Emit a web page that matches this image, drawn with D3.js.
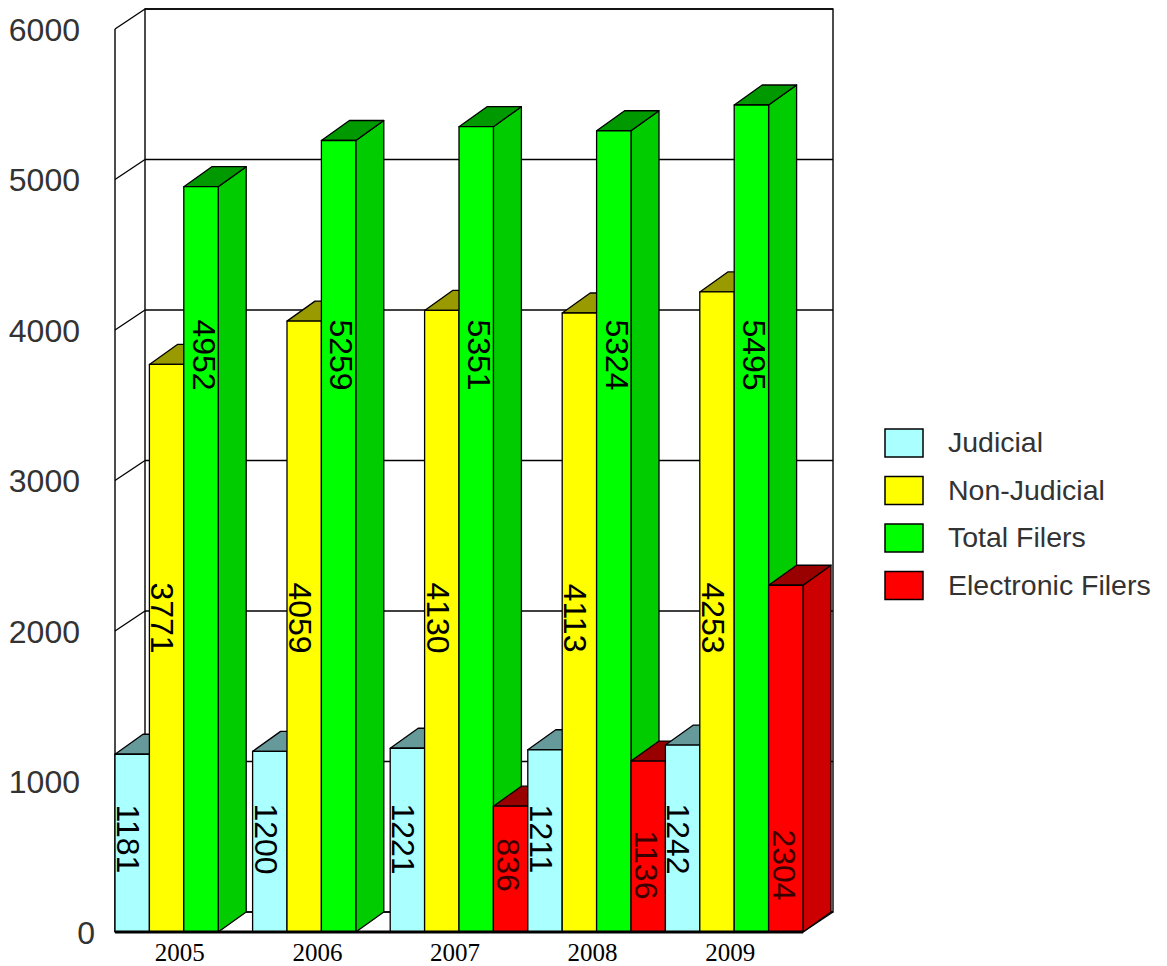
<!DOCTYPE html>
<html>
<head>
<meta charset="utf-8">
<script src="https://cdn.jsdelivr.net/npm/d3@7"></script>
<style>
  body { margin: 0; background: #fff; }
  svg { display: block; }
</style>
</head>
<body>
<svg id="chart" width="1167" height="966"></svg>
<script>
// ---- data ----
const years = ["2005", "2006", "2007", "2008", "2009"];
const seriesNames = ["Judicial", "Non-Judicial", "Total Filers", "Electronic Filers"];
const judicial = [1181, 1200, 1221, 1211, 1242];
const nonJudicial = [3771, 4059, 4130, 4113, 4253];
const totalFilers = [4952, 5259, 5351, 5324, 5495];
const electronicFilers = [0, 0, 836, 1136, 2304];
const yTicks = [0, 1000, 2000, 3000, 4000, 5000, 6000];

const seriesValues = [judicial, nonJudicial, totalFilers, electronicFilers];

// ---- styling ----
const palette = {
  "Judicial":          { front: "#aaffff", side: "#88cccc", top: "#669999", label: "#000" },
  "Non-Judicial":      { front: "#ffff00", side: "#cccc00", top: "#999900", label: "#000" },
  "Total Filers":      { front: "#00ff00", side: "#00cc00", top: "#009900", label: "#000" },
  "Electronic Filers": { front: "#ff0000", side: "#cc0000", top: "#990000", label: "#3a0000" }
};
// where each series' rotated value label sits (axis units) and its inset from the bar's left edge
const labelPlacement = {
  "Judicial":          { level: 618, inset: 2 },
  "Non-Judicial":      { level: 2086, inset: 2 },
  "Total Filers":      { level: 3834, inset: 9 },
  "Electronic Filers": { level: 445, inset: 4 }
};

const svg = d3.select("#chart");
const ink = "#000";

// front plane of the plot
const x = d3.scaleBand().domain(years).range([115, 803]).paddingInner(0).paddingOuter(0);
const xs = d3.scaleBand().domain(seriesNames).range([0, x.bandwidth()]);
const y = d3.scaleLinear().domain([0, 6000]).range([932, 29]);

// 3D offsets: walls and bar depth
const wallDx = 30, wallDy = -20;
const barDx = 28, barDy = -20;

const x0 = x.range()[0], x1 = x.range()[1];
const yBase = y(0), yTop = y(6000);

// ---- walls ----
const walls = svg.append("g").attr("fill", "none").attr("stroke", ink).attr("stroke-width", 1.4);

// back wall
walls.append("rect")
  .attr("x", x0 + wallDx).attr("y", yTop + wallDy)
  .attr("width", x1 - x0).attr("height", yBase - yTop)
  .attr("fill", "#fff");

// grid lines on the back wall and the matching slants on the left wall
yTicks.forEach(t => {
  walls.append("line")
    .attr("x1", x0 + wallDx).attr("x2", x1 + wallDx)
    .attr("y1", y(t) + wallDy).attr("y2", y(t) + wallDy);
  walls.append("line")
    .attr("x1", x0).attr("y1", y(t))
    .attr("x2", x0 + wallDx).attr("y2", y(t) + wallDy);
});

// left wall front edge
walls.append("line").attr("x1", x0).attr("x2", x0).attr("y1", yTop).attr("y2", yBase);
// floor right edge
walls.append("line")
  .attr("x1", x1).attr("y1", yBase)
  .attr("x2", x1 + wallDx).attr("y2", yBase + wallDy);

// ---- bars (painted left to right so nearer bars overlap side faces) ----
const bars = svg.append("g").attr("stroke", ink).attr("stroke-width", 1.3).attr("stroke-linejoin", "round");
const labelData = [];

years.forEach((yr, i) => {
  seriesNames.forEach((s, k) => {
    const v = seriesValues[k][i];
    if (!v) return;
    const bx = x(yr) + xs(s);
    const w = xs.bandwidth();
    const yt = y(v);
    const c = palette[s];
    const g = bars.append("g");
    g.append("polygon")
      .attr("points", [[bx + w, yt], [bx + w + barDx, yt + barDy], [bx + w + barDx, yBase + barDy], [bx + w, yBase]].join(" "))
      .attr("fill", c.side);
    g.append("polygon")
      .attr("points", [[bx, yt], [bx + barDx, yt + barDy], [bx + w + barDx, yt + barDy], [bx + w, yt]].join(" "))
      .attr("fill", c.top);
    g.append("rect")
      .attr("x", bx).attr("y", yt).attr("width", w).attr("height", yBase - yt)
      .attr("fill", c.front);
    labelData.push({ s, v, bx });
  });
});

// floor front edge
svg.append("line")
  .attr("x1", x0).attr("x2", x1).attr("y1", yBase).attr("y2", yBase)
  .attr("stroke", ink).attr("stroke-width", 3);

// ---- value labels ----
svg.append("g").selectAll("text").data(labelData).join("text")
  .attr("transform", d => `translate(${d.bx + labelPlacement[d.s].inset},${y(labelPlacement[d.s].level)}) rotate(90)`)
  .attr("text-anchor", "middle")
  .attr("font-family", "'Liberation Sans', Arial, sans-serif")
  .attr("font-size", 32)
  .attr("fill", d => palette[d.s].label)
  .text(d => d.v);

// ---- y axis labels ----
svg.append("g").selectAll("text").data(yTicks).join("text")
  .attr("x", 80).attr("y", d => y(d))
  .attr("dx", d => d === 0 ? 15 : 0)
  .attr("dy", "0.36em")
  .attr("text-anchor", "end")
  .attr("font-family", "'Liberation Sans', Arial, sans-serif")
  .attr("font-size", 32)
  .attr("fill", "#333")
  .text(d => d);

// ---- category labels ----
svg.append("g").selectAll("text").data(years).join("text")
  .attr("x", d => x(d) + x.bandwidth() / 2 - 4)
  .attr("y", 961)
  .attr("text-anchor", "middle")
  .attr("font-family", "'Liberation Serif', 'Times New Roman', serif")
  .attr("font-size", 25)
  .attr("fill", "#000")
  .text(d => d);

// ---- legend ----
const legend = svg.append("g").attr("transform", "translate(885,429)");
const rowStep = 47.5;
seriesNames.forEach((s, k) => {
  const row = legend.append("g").attr("transform", `translate(0,${k * rowStep})`);
  row.append("rect")
    .attr("width", 38).attr("height", 28)
    .attr("fill", palette[s].front)
    .attr("stroke", ink).attr("stroke-width", 1.5);
  row.append("text")
    .attr("x", 63).attr("y", 13).attr("dy", "0.36em")
    .attr("font-family", "'Liberation Sans', Arial, sans-serif")
    .attr("font-size", 28.5)
    .attr("fill", "#333")
    .text(s);
});
</script>
</body>
</html>
